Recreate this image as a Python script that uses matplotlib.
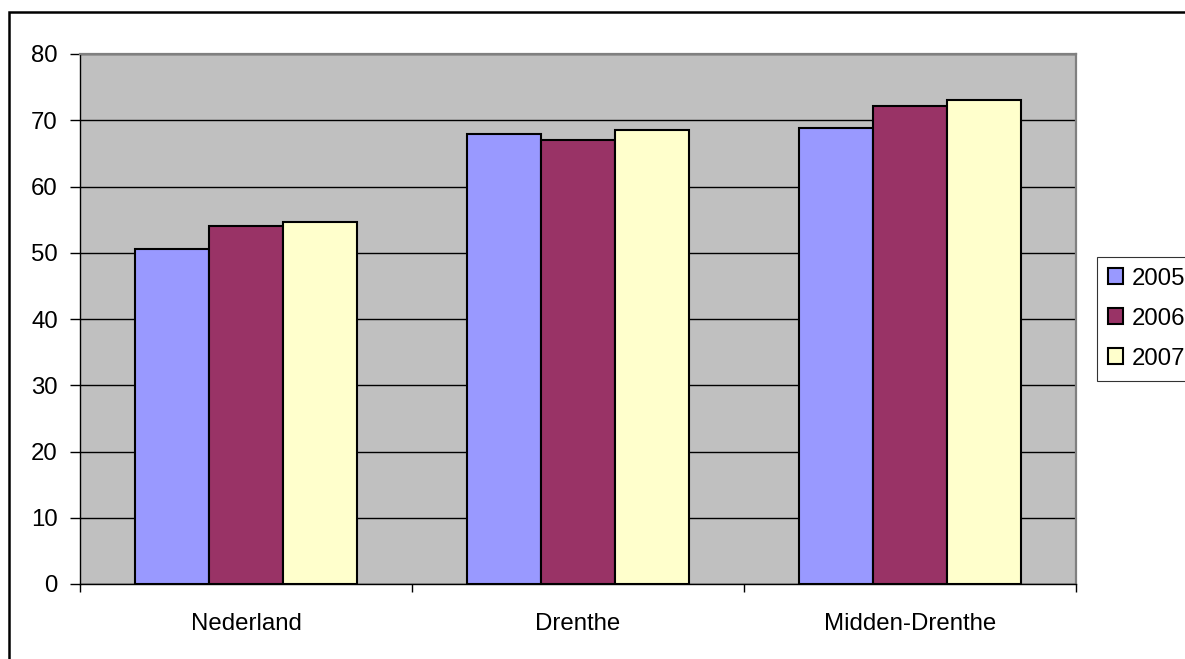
import numpy as np
import matplotlib.pyplot as plt
from matplotlib.patches import Rectangle, Patch

regions = ["Nederland", "Drenthe", "Midden-Drenthe"]
years = ["2005", "2006", "2007"]
v2005 = [50.5, 68.0, 68.9]
v2006 = [54.1, 67.0, 72.2]
v2007 = [54.6, 68.5, 73.0]
colors = ["#9999FF", "#993366", "#FFFFCC"]

plt.rcParams['font.family'] = ['Liberation Sans', 'DejaVu Sans']

fig = plt.figure(figsize=(11.85, 6.59), dpi=100)
ax = fig.add_axes([80/1185, 75/659, 996/1185, 530/659])
ax.set_facecolor("#C0C0C0")

x = np.arange(len(regions))
w = 0.223
for i, vals in enumerate([v2005, v2006, v2007]):
    ax.bar(x + (i - 1) * w, vals, width=w, color=colors[i],
           edgecolor="black", linewidth=1.5, zorder=3)

ax.set_ylim(0, 80)
ax.set_xlim(-0.5, 2.5)
ax.set_yticks(range(0, 81, 10))
ax.yaxis.grid(True, color="black", linewidth=1.0, zorder=1)
ax.set_axisbelow(True)

ax.set_xticks(x)
ax.set_xticklabels(regions)
ax.set_xticks(np.arange(-0.5, 3, 1), minor=True)
ax.tick_params(axis="x", which="major", length=0, pad=21, labelsize=17.3)
ax.tick_params(axis="x", which="minor", length=6, width=1, color="black")
ax.tick_params(axis="y", length=7, width=1, pad=9, labelsize=17.3)

ax.spines["left"].set_color("black")
ax.spines["bottom"].set_color("black")
ax.spines["left"].set_linewidth(1.0)
ax.spines["bottom"].set_linewidth(1.0)
for s in ["top", "right"]:
    ax.spines[s].set_color("#808080")
    ax.spines[s].set_linewidth(1.6)

handles = [Patch(facecolor=c, edgecolor="black", linewidth=1.5) for c in colors]
leg = fig.legend(handles, years, loc="upper left",
                 bbox_to_anchor=(1097/1185, 1 - 257/659),
                 fontsize=17.3, frameon=True, fancybox=False,
                 handlelength=0.65, handleheight=0.65, handletextpad=0.35,
                 labelspacing=0.75, borderpad=0.45, borderaxespad=0)
leg.get_frame().set_edgecolor("black")
leg.get_frame().set_linewidth(0.8)

# outer chart border
fig.patches.append(Rectangle((9/1185, -0.02), 1.05, 1 - 12/659 + 0.02,
                             transform=fig.transFigure, fill=False,
                             edgecolor="black", linewidth=1.8))

fig.savefig("out.png", dpi=100)
